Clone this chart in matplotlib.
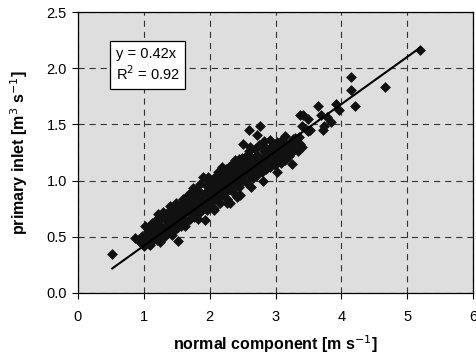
import matplotlib
matplotlib.use("Agg")
import matplotlib.pyplot as plt
import numpy as np

plt.rcParams['font.family'] = ['Liberation Sans', 'DejaVu Sans']

normal_component = [
    0.52, 0.87, 0.94, 0.97,
    1.00, 1.02, 1.03, 1.06, 1.08, 1.05,
    1.11, 1.09, 1.13, 1.12, 1.10, 1.16, 1.14, 1.18,
    1.21, 1.19, 1.23, 1.22, 1.26, 1.24, 1.27, 1.20,
    1.31, 1.29, 1.33, 1.32, 1.36, 1.34, 1.38, 1.30,
    1.41, 1.39, 1.43, 1.42, 1.46, 1.44, 1.47, 1.40,
    1.51, 1.49, 1.52, 1.53, 1.56, 1.54, 1.57, 1.50,
    1.61, 1.59, 1.63, 1.62, 1.66, 1.64, 1.67, 1.60, 1.68,
    1.71, 1.69, 1.73, 1.75, 1.76, 1.74, 1.77, 1.70, 1.78,
    1.81, 1.79, 1.83, 1.82, 1.86, 1.84, 1.87, 1.80, 1.88,
    1.91, 1.90, 1.93, 1.92, 1.96, 1.98, 1.97, 1.89, 1.94, 1.95,
    2.01, 1.99, 2.03, 2.02, 2.06, 2.04, 2.07, 2.00, 2.08,
    2.11, 2.09, 2.13, 2.12, 2.16, 2.14, 2.17, 2.10, 2.18,
    2.21, 2.19, 2.23, 2.22, 2.26, 2.24, 2.27, 2.20, 2.28,
    2.31, 2.29, 2.33, 2.32, 2.36, 2.34, 2.37, 2.30, 2.39, 2.38,
    2.41, 2.40, 2.43, 2.42, 2.46, 2.44, 2.47, 2.45, 2.48,
    2.51, 2.49, 2.53, 2.52, 2.56, 2.54, 2.57, 2.50, 2.58, 2.59,
    2.61, 2.60, 2.63, 2.62, 2.66, 2.64, 2.67, 2.65, 2.68,
    2.71, 2.69, 2.72, 2.73, 2.76, 2.74, 2.77, 2.70, 2.78,
    2.81, 2.79, 2.83, 2.82, 2.86, 2.84, 2.87, 2.80, 2.88,
    2.91, 2.89, 2.93, 2.92, 2.96, 2.94, 2.97, 2.99, 2.98,
    3.01, 3.03, 3.02, 3.06, 3.05, 3.08, 3.00,
    3.11, 3.10, 3.13, 3.14, 3.16, 3.18, 3.12,
    3.21, 3.20, 3.25, 3.24, 3.27, 3.23, 3.29,
    3.31, 3.30, 3.37, 3.36, 3.37, 3.40, 3.40, 3.42, 3.34,
    3.48, 3.50, 3.50, 3.53, 3.65, 3.69, 3.72, 3.73, 3.78,
    3.85, 3.92, 3.97, 4.14, 4.15, 4.20, 4.67, 5.20,
    1.07, 1.17, 1.25, 1.28, 1.35, 1.37, 1.45, 1.48, 1.55, 1.58,
    1.65, 1.72, 1.74, 1.85, 1.88, 1.95, 2.05, 2.02, 2.15, 2.19,
    2.25, 2.28, 2.35, 2.33, 2.44, 2.48, 2.55, 2.53, 2.62, 2.66,
    2.75, 2.72, 2.85, 2.83, 2.95, 2.92, 3.04, 3.07, 3.15, 3.19,
    3.26, 3.33,
    1.24, 1.43, 1.62, 1.83, 2.07, 2.26, 2.42, 2.63, 2.81, 3.02,
]
primary_inlet = [
    0.35, 0.49, 0.45, 0.51,
    0.42, 0.60, 0.48, 0.55, 0.44, 0.51,
    0.46, 0.56, 0.62, 0.50, 0.43, 0.48, 0.58, 0.53,
    0.50, 0.65, 0.55, 0.70, 0.49, 0.60, 0.57, 0.47,
    0.54, 0.72, 0.60, 0.66, 0.53, 0.68, 0.62, 0.50,
    0.58, 0.77, 0.63, 0.70, 0.56, 0.66, 0.72, 0.55,
    0.62, 0.80, 0.46, 0.68, 0.60, 0.74, 0.70, 0.58,
    0.66, 0.84, 0.84, 0.72, 0.64, 0.78, 0.74, 0.62, 0.80,
    0.70, 0.88, 0.76, 0.87, 0.68, 0.82, 0.78, 0.66, 0.84,
    0.74, 0.92, 0.80, 0.86, 0.72, 0.90, 0.82, 0.70, 0.88,
    0.78, 1.03, 0.65, 0.84, 0.74, 1.03, 0.92, 0.74, 0.88, 0.96,
    0.80, 1.00, 0.86, 0.94, 0.76, 0.82, 0.96, 0.78, 0.90,
    0.84, 1.04, 1.08, 0.90, 0.80, 0.98, 0.86, 0.94, 1.00,
    0.88, 1.08, 0.94, 1.02, 0.84, 0.96, 1.04, 0.90, 0.92,
    0.80, 1.12, 0.98, 1.06, 0.90, 1.00, 1.08, 0.94, 1.18, 0.96,
    0.96, 1.15, 1.02, 1.10, 0.87, 1.04, 1.12, 0.94, 1.00,
    1.33, 1.20, 1.06, 1.14, 0.98, 1.08, 1.16, 1.00, 1.24, 1.45,
    1.04, 1.26, 1.10, 1.18, 1.02, 1.12, 1.20, 1.06, 1.14,
    1.08, 1.28, 1.41, 1.14, 1.49, 1.22, 1.10, 1.04, 1.16,
    1.12, 1.32, 1.18, 1.26, 1.10, 1.20, 1.28, 1.08, 1.14,
    1.16, 1.22, 1.30, 1.12, 1.18, 1.24, 1.32, 1.14, 1.20,
    1.20, 1.26, 1.34, 1.22, 1.28, 1.16, 1.24,
    1.24, 1.36, 1.30, 1.18, 1.26, 1.32, 1.20,
    1.28, 1.22, 1.15, 1.34, 1.26, 1.30, 1.32,
    1.32, 1.38, 1.33, 1.39, 1.58, 1.30, 1.49, 1.58, 1.26,
    1.45, 1.55, 1.44, 1.45, 1.66, 1.58, 1.45, 1.49, 1.57,
    1.52, 1.68, 1.63, 1.81, 1.92, 1.66, 1.83, 2.16,
    0.57, 0.63, 0.66, 0.59, 0.71, 0.64, 0.75, 0.69, 0.79, 0.73,
    0.86, 0.79, 0.93, 0.97, 0.83, 0.85, 1.01, 0.91, 0.95, 1.12,
    1.10, 0.99, 1.03, 1.14, 1.19, 1.07, 1.21, 1.11, 1.30, 1.16,
    1.32, 1.19, 1.24, 1.35, 1.28, 1.36, 1.31, 1.19, 1.40, 1.25,
    1.37, 1.29,
    0.45, 0.52, 0.60, 0.66, 0.74, 0.80, 0.85, 0.94, 1.00, 1.08,
]
slope = 0.42
r_squared = 0.92

x_ticks = [0, 1, 2, 3, 4, 5, 6]
y_ticks = [0.0, 0.5, 1.0, 1.5, 2.0, 2.5]

fig = plt.figure(figsize=(4.76, 3.56), dpi=100)
ax = fig.add_axes([78/476, 63/356, 395/476, 281/356])
ax.set_facecolor('#dedede')

xs = np.array(normal_component)
ys = np.array(primary_inlet)
ax.scatter(xs, ys, marker='D', s=25, color='#111111', edgecolors='#111111',
           linewidths=0.5, zorder=3)

xl = np.array([xs.min(), xs.max()])
ax.plot(xl, slope * xl, color='black', lw=1.5, zorder=4)

ax.set_xlim(0, 6)
ax.set_ylim(0, 2.5)
ax.set_xticks(x_ticks)
ax.set_yticks(y_ticks)
ax.set_xticklabels([str(t) for t in x_ticks])
ax.set_yticklabels([f"{t:.1f}" for t in y_ticks])
ax.grid(True, color='#333333', linestyle=(0, (5.5, 4.5)), linewidth=0.8, zorder=1)
ax.set_axisbelow(True)
ax.tick_params(axis='both', direction='out', length=4, width=0.8, labelsize=10.5, colors='black')
ax.tick_params(axis='x', pad=8)
ax.tick_params(axis='y', pad=4)
for sp in ax.spines.values():
    sp.set_color('black')
    sp.set_linewidth(0.9)

ax.set_xlabel('normal component [m s$^{-1}$]', fontsize=11.5, fontweight='bold', labelpad=7)
ax.set_ylabel('primary inlet [m$^{3}$ s$^{-1}$]', fontsize=11.5, fontweight='bold', labelpad=12)

ax.text(0.57, 2.19, f"y = {slope}x\nR$^2$ = {r_squared}", fontsize=10.5,
        ha='left', va='top', linespacing=1.25, zorder=5,
        bbox=dict(boxstyle='square,pad=0.38', facecolor='white', edgecolor='black', linewidth=0.9))

fig.savefig('out.png', dpi=100, facecolor='white')
